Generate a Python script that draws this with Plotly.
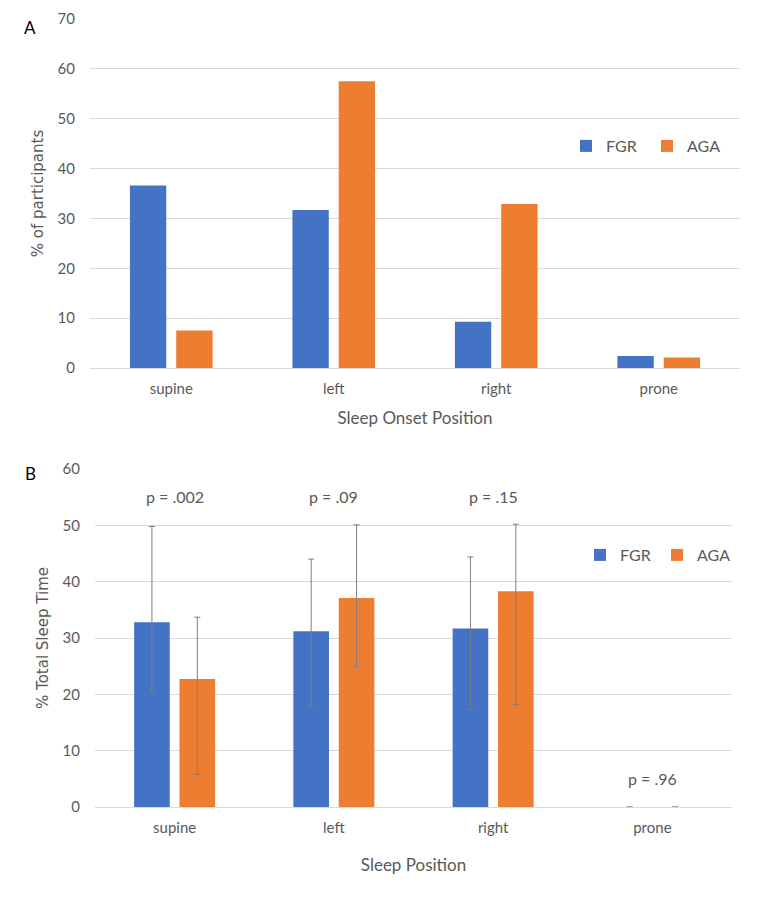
import plotly.graph_objects as go

categories = ["supine", "left", "right", "prone"]

# Panel A: % of participants by sleep onset position
onset_fgr = [36.6, 31.7, 9.3, 2.4]
onset_aga = [7.5, 57.5, 32.9, 2.1]

# Panel B: % total sleep time by sleep position (bar value, upper and lower whisker)
tst_fgr = [32.8, 31.2, 31.7, 0]
tst_fgr_hi = [49.8, 44.0, 44.4, None]
tst_fgr_lo = [20.6, 18.1, 17.3, None]
tst_aga = [22.7, 37.1, 38.3, 0]
tst_aga_hi = [33.7, 50.1, 50.2, None]
tst_aga_lo = [5.8, 24.9, 18.2, None]

p_labels = ["p = .002", "p = .09", "p = .15", "p = .96"]
p_y = [55.2, 55.2, 55.2, 5.0]

BLUE = "#4472C4"
ORANGE = "#ED7D31"
TXT = "#595959"
GRID = "#D9D9D9"
FONT = "Lato, sans-serif"

def plus(v, hi):
    return [None if h is None else h - x for x, h in zip(v, hi)]

def minus(v, lo):
    return [None if l is None else x - l for x, l in zip(v, lo)]

fig = go.Figure()
fig.add_trace(go.Bar(x=categories, y=onset_fgr, name="FGR", marker_color=BLUE,
                     marker_line_width=0, xaxis="x", yaxis="y", legend="legend"))
fig.add_trace(go.Bar(x=categories, y=onset_aga, name="AGA", marker_color=ORANGE,
                     marker_line_width=0, xaxis="x", yaxis="y", legend="legend"))

eb = dict(type="data", symmetric=False, color="#7F7F7F", thickness=1, width=3)
fig.add_trace(go.Bar(x=categories, y=tst_fgr, name="FGR", marker_color=BLUE,
                     marker_line_width=0, xaxis="x2", yaxis="y2", legend="legend2",
                     error_y=dict(eb, array=plus(tst_fgr, tst_fgr_hi),
                                  arrayminus=minus(tst_fgr, tst_fgr_lo))))
fig.add_trace(go.Bar(x=categories, y=tst_aga, name="AGA", marker_color=ORANGE,
                     marker_line_width=0, xaxis="x2", yaxis="y2", legend="legend2",
                     error_y=dict(eb, array=plus(tst_aga, tst_aga_hi),
                                  arrayminus=minus(tst_aga, tst_aga_lo))))

OFF = 8  # page body margin
W, H = 752, 889
def px(x):
    return (x - OFF) / W
def py(y):
    return 1 - (y - OFF) / H

xax = dict(showgrid=False, zeroline=False, showline=False, ticks="", automargin=False,
           ticklabelstandoff=10,
           tickfont=dict(family=FONT, size=15, color=TXT),
           title_font=dict(family=FONT, size=17, color=TXT))
yax = dict(showgrid=True, gridcolor=GRID, gridwidth=1, zeroline=True, automargin=False,
           zerolinecolor=GRID, zerolinewidth=1, showline=False, ticks="",
           ticklabelstandoff=14,
           tickfont=dict(family=FONT, size=15, color=TXT),
           title_font=dict(family="DejaVu Sans, sans-serif", size=15, color=TXT))

annotations = [
    dict(text="A", x=px(30), y=py(28), xref="paper", yref="paper", showarrow=False,
         xanchor="center", yanchor="middle",
         font=dict(family=FONT, size=17, color="#000000")),
    dict(text="B", x=px(30), y=py(473), xref="paper", yref="paper", showarrow=False,
         xanchor="center", yanchor="middle",
         font=dict(family=FONT, size=17, color="#000000")),
]
for c, t, yv in zip(categories, p_labels, p_y):
    annotations.append(dict(text=t, x=c, y=yv, xref="x2", yref="y2", showarrow=False,
                            font=dict(family=FONT, size=16, color=TXT)))

fig.update_layout(
    width=W, height=H,
    margin=dict(l=0, r=0, t=0, b=0, autoexpand=False),
    paper_bgcolor="white", plot_bgcolor="white",
    barmode="group", bargap=0.43, bargroupgap=0.215,
    xaxis=dict(xax, domain=[px(90), px(740)], anchor="y",
               title=dict(text="Sleep Onset Position", standoff=16)),
    yaxis=dict(yax, domain=[py(368), py(19)], anchor="x", range=[0, 70], dtick=10,
               title=dict(text="% of participants", standoff=10)),
    xaxis2=dict(xax, domain=[px(95), px(732)], anchor="y2",
                title=dict(text="Sleep Position", standoff=24)),
    yaxis2=dict(yax, domain=[py(807), py(469)], anchor="x2", range=[0, 60], dtick=10,
                title=dict(text="% Total Sleep Time", standoff=10)),
    legend=dict(orientation="h", x=px(566), y=py(146), xanchor="left", yanchor="middle",
                font=dict(family=FONT, size=16, color=TXT), bgcolor="rgba(0,0,0,0)",
                entrywidth=36, traceorder="normal"),
    legend2=dict(orientation="h", x=px(580), y=py(555), xanchor="left", yanchor="middle",
                 font=dict(family=FONT, size=16, color=TXT), bgcolor="rgba(0,0,0,0)",
                 entrywidth=32, traceorder="normal"),
    annotations=annotations,
    showlegend=True,
)

fig.write_html("out.html")
